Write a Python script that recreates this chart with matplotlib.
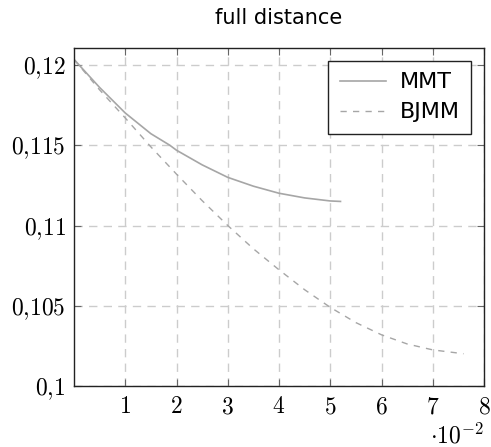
import numpy as np
import matplotlib
matplotlib.use('Agg')
import matplotlib.pyplot as plt

plt.rcParams['mathtext.fontset'] = 'cm'
plt.rcParams['font.family'] = 'DejaVu Sans'

# values (x in units of 1e-2)
mmt_x = [0, 0.5, 1, 1.5, 1.87, 2, 2.5, 3, 3.5, 4, 4.5, 5, 5.2]
mmt_y = [0.12035, 0.11860, 0.11701, 0.11572, 0.11500, 0.11469, 0.11378,
         0.11300, 0.11245, 0.11201, 0.11172, 0.11153, 0.11150]

bjmm_x = [0, 0.5, 1, 1.5, 2, 2.5, 3, 3.5, 4, 4.5, 5, 5.5, 6, 6.5, 7, 7.6]
bjmm_y = [0.12035, 0.11845, 0.11670, 0.11490, 0.11320, 0.11155, 0.11000,
          0.10855, 0.10724, 0.10600, 0.10490, 0.10395, 0.10319, 0.10262,
          0.10225, 0.10201]

x_ticks = [1, 2, 3, 4, 5, 6, 7, 8]
y_ticks = [0.1, 0.105, 0.11, 0.115, 0.12]
y_labels = ['0,1', '0,105', '0,11', '0,115', '0,12']

fig = plt.figure(figsize=(4.91, 4.47), dpi=100)
ax = fig.add_axes([74 / 491, 61 / 447, 410 / 491, 338 / 447])

line_col = '#a6a6a6'
ax.plot(mmt_x, mmt_y, color=line_col, lw=1.2, label='MMT')
ax.plot(bjmm_x, bjmm_y, color=line_col, lw=1.0, dashes=(4.5, 4.5), label='BJMM')

ax.set_xlim(0, 8)
ax.set_ylim(0.1, 0.12106)
ax.set_xticks(x_ticks)
ax.set_xticklabels(['$%d$' % t for t in x_ticks])
ax.set_yticks(y_ticks)
ax.set_yticklabels(['$' + s.replace(',', '{,}') + '$' for s in y_labels])

ax.grid(True, color='#cccccc', lw=1.0, dashes=(6, 4.5))
ax.tick_params(direction='in', length=5, width=0.8, color='#666666',
               top=True, right=True, labelsize=17, pad=6)
for s in ax.spines.values():
    s.set_linewidth(1.0)
    s.set_color('#222222')

ax.text(1.0, -0.11, r'$\cdot 10^{-2}$', transform=ax.transAxes,
        ha='right', va='top', fontsize=17)

ax.set_title('full distance', fontsize=15, pad=17)

leg = ax.legend(loc='upper right', fontsize=16, fancybox=False,
                framealpha=1, edgecolor='#222222', borderpad=0.5,
                handlelength=2.1, handletextpad=0.6, labelspacing=0.45,
                borderaxespad=0.6)
leg.get_frame().set_linewidth(1.0)

fig.savefig('out.png', dpi=100)
